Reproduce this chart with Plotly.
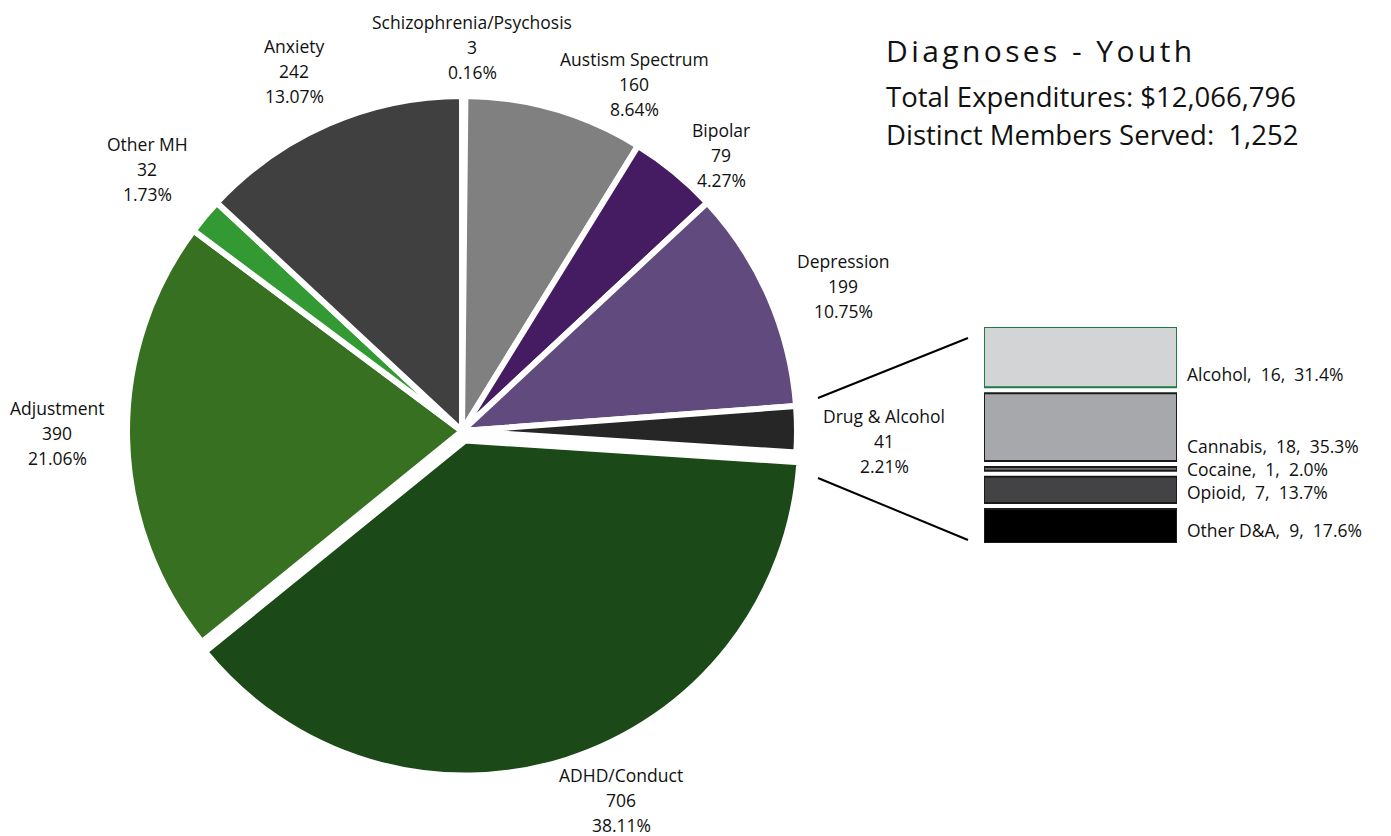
import plotly.graph_objects as go

# Youth diagnoses (pie slices, clockwise from 12 o'clock)
diagnoses = ["Schizophrenia/Psychosis", "Austism Spectrum", "Bipolar", "Depression",
             "Drug & Alcohol", "ADHD/Conduct", "Adjustment", "Other MH", "Anxiety"]
members = [3, 160, 79, 199, 41, 706, 390, 32, 242]
percent_labels = ["0.16%", "8.64%", "4.27%", "10.75%", "2.21%", "38.11%", "21.06%", "1.73%", "13.07%"]

# Drug & Alcohol breakdown (stacked bar, top to bottom)
substances = ["Alcohol", "Cannabis", "Cocaine", "Opioid", "Other D&A"]
substance_counts = [16, 18, 1, 7, 9]
substance_pcts = ["31.4%", "35.3%", "2.0%", "13.7%", "17.6%"]

title_lines = ["Diagnoses - Youth", "Total Expenditures: $12,066,796", "Distinct Members Served:  1,252"]

W, H = 1391, 836
FONT = "Open Sans"

slice_colors = ["#f4f4f4", "#808080", "#451b62", "#614b7e", "#262626",
                "#1b4a18", "#377021", "#339933", "#404040"]
slice_pull = [0, 0, 0, 0, 0, 0.03, 0, 0, 0]

bar_fill = ["#d3d4d6", "#a7a8ab", "#6d6e71", "#434345", "#000000"]
bar_edge = ["#1e7b45", "#1a1a1a", "#1a1a1a", "#1a1a1a", "#1a1a1a"]
# vertical offset (px, upward from the rectangle's lower edge) of each bar label
bar_label_lift = [13, 15, 2, 11, 13]


def px_x(x):
    return x / W


def px_y(y):
    return 1 - y / H


fig = go.Figure()

# Main pie
cx, cy, r = 462, 431, 335
half_box = r * (1 + max(slice_pull))
fig.add_trace(go.Pie(
    labels=diagnoses,
    values=members,
    sort=False,
    direction="clockwise",
    rotation=0,
    pull=slice_pull,
    marker=dict(colors=slice_colors, line=dict(color="white", width=6)),
    textinfo="none",
    hoverinfo="skip",
    showlegend=False,
    domain=dict(x=[px_x(cx - half_box), px_x(cx + half_box)],
                y=[px_y(cy + half_box), px_y(cy - half_box)]),
))

# Breakdown bar: rectangles separated by small white gaps
bar_top, bar_bottom = 327, 543
gap_px = 6
total = sum(substance_counts)
n_gaps = len(substance_counts) - 1
span_px = bar_bottom - bar_top
gap_units = gap_px * total / (span_px - n_gaps * gap_px)
bases = []
acc = 0.0
for v in substance_counts:
    bases.append(acc)
    acc += v + gap_units
y_max = acc - gap_units

for i, name in enumerate(substances):
    fig.add_trace(go.Bar(
        x=[0], y=[substance_counts[i]], base=[bases[i]],
        width=1,
        marker=dict(color=bar_fill[i], line=dict(color=bar_edge[i], width=2)),
        xaxis="x2", yaxis="y2",
        hoverinfo="skip", showlegend=False,
    ))

annotations = []

# Pie labels: name, count, percent on three lines
pie_label_pos = [(472, 47), (634, 84), (721, 155), (843, 286), (884, 441),
                 (621, 800), (57, 433), (147, 169), (294, 71)]
line_gap = 25
for name, val, pct, (lx, ly) in zip(diagnoses, members, percent_labels, pie_label_pos):
    for k, txt in enumerate([name, f"{val:,}", pct]):
        annotations.append(dict(
            x=px_x(lx), y=px_y(ly + (k - 1) * line_gap), xref="paper", yref="paper",
            text=txt, showarrow=False, xanchor="center", yanchor="middle",
            font=dict(family=FONT, size=17.5, color="#111111"),
        ))

# Bar labels, placed near the lower edge of each rectangle
for i, name in enumerate(substances):
    annotations.append(dict(
        x=0.5, y=bases[i] + substance_counts[i], xref="x2", yref="y2",
        text=f"{name},  {substance_counts[i]},  {substance_pcts[i]}",
        showarrow=False, xanchor="left", yanchor="middle", xshift=8,
        yshift=bar_label_lift[i],
        font=dict(family=FONT, size=17.5, color="#111111"),
    ))

# Title block
title_specs = [(50, 30, 3.4), (96, 27.5, 0), (134, 27.5, 0)]
for txt, (ty, fs, spacing) in zip(title_lines, title_specs):
    shown = f'<span style="letter-spacing:{spacing}px">{txt}</span>' if spacing else txt
    annotations.append(dict(
        x=px_x(884), y=px_y(ty), xref="paper", yref="paper",
        text=shown, showarrow=False, xanchor="left", yanchor="middle",
        font=dict(family=FONT, size=fs, color="#111111"),
    ))

# Connector lines from the Drug & Alcohol slice to the breakdown bar
shapes = [
    dict(type="line", xref="paper", yref="paper",
         x0=px_x(818), y0=px_y(398), x1=px_x(968), y1=px_y(338),
         line=dict(color="black", width=2)),
    dict(type="line", xref="paper", yref="paper",
         x0=px_x(818), y0=px_y(478), x1=px_x(968), y1=px_y(540),
         line=dict(color="black", width=2)),
]

fig.update_layout(
    width=W, height=H,
    margin=dict(l=0, r=0, t=0, b=0),
    paper_bgcolor="white", plot_bgcolor="white",
    barmode="overlay",
    xaxis2=dict(domain=[px_x(984), px_x(1177)], range=[-0.5, 0.5], visible=False,
                anchor="y2", fixedrange=True),
    yaxis2=dict(domain=[px_y(bar_bottom), px_y(bar_top)], range=[y_max, 0], visible=False,
                anchor="x2", fixedrange=True),
    annotations=annotations,
    shapes=shapes,
)

fig.write_html("out.html")
